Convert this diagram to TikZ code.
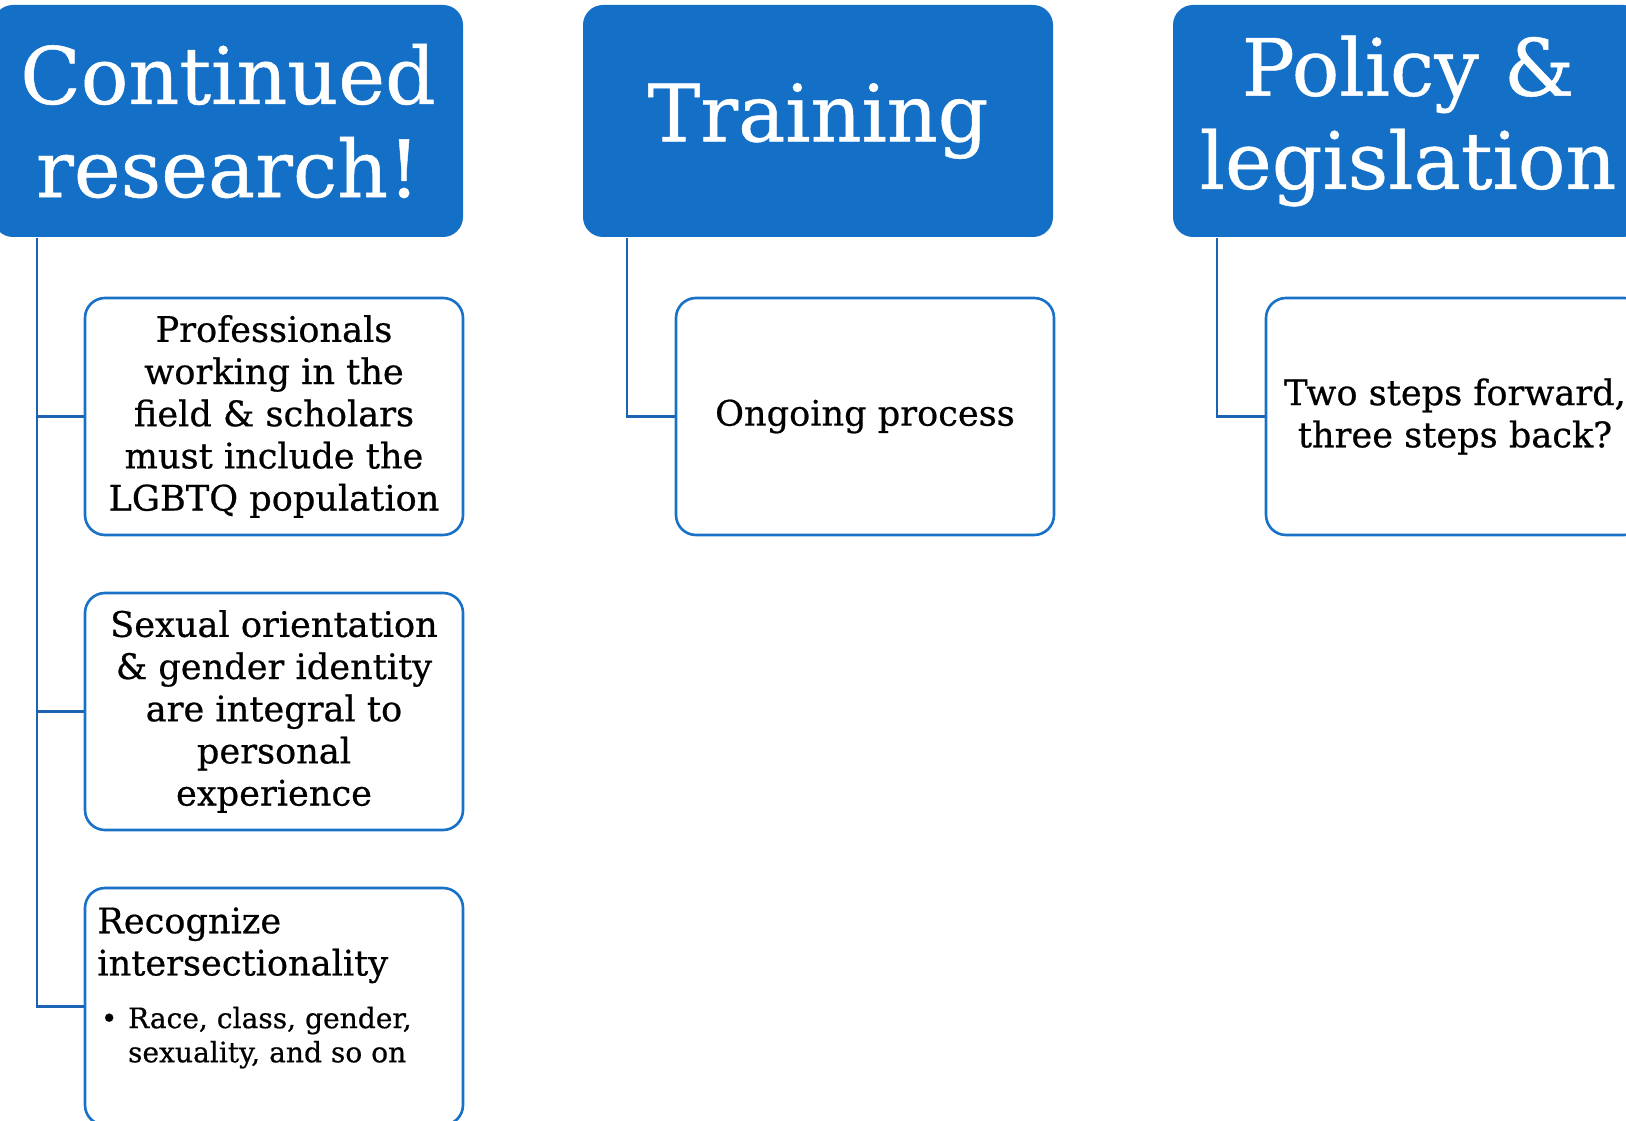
\documentclass[tikz,border=0pt]{standalone}
\usepackage{fontspec}
\setmainfont{DejaVu Serif}[BoldFont={DejaVu Serif}, BoldFeatures={FakeBold=0.6}]
\definecolor{headblue}{HTML}{1370C6}
\definecolor{boxblue}{HTML}{1A72C8}
\definecolor{linkblue}{HTML}{1D63B3}
\begin{document}
\begin{tikzpicture}[
    head/.style={rectangle, rounded corners=0.2cm, fill=headblue, text=white,
      minimum width=4.7cm, minimum height=2.32cm, align=center,
      font=\fontsize{22.5}{26.5}\selectfont\bfseries},
    item/.style={rectangle, rounded corners=0.2cm, draw=boxblue, line width=0.75pt,
      fill=white, minimum width=3.78cm, minimum height=2.37cm, align=center,
      font=\fontsize{10}{12}\selectfont\bfseries},
    link/.style={draw=linkblue, line width=0.6pt}]
  \path [fill=white, use as bounding box] (0,0) rectangle (16.26,-11.21);
  \foreach \txt [count=\i from 0] in {{Continued\\research!},{Training},{Policy \&\\legislation}} {
    \node [head] (h\i) at (2.28+\i*5.9,-1.21) {\txt};
  }
  \node [item] (r1) at (2.74,-4.165)
    {Professionals\\working in the\\field \& scholars\\must include the\\LGBTQ population};
  \node [item] (r2) at (2.74,-7.115)
    {Sexual orientation\\\& gender identity\\are integral to\\personal\\experience};
  \node [item] (r3) at (2.74,-10.065) {};
  \node [anchor=north west, inner sep=0pt, align=left, font=\fontsize{10}{12}\selectfont\bfseries]
    (r3t) at ([shift={(0.13,-0.2)}]r3.north west)
    {Recognize\\intersectionality\\[3pt]
     {\fontsize{8}{9.7}\selectfont\begin{tabular}[t]{@{\hspace{1pt}}l@{\hspace{3pt}}l@{}}
       \textbullet & Race, class, gender,\\ & sexuality, and so on\end{tabular}}};
  \node [item] (t1) at (8.65,-4.165) {Ongoing process};
  \node [item] (p1) at (14.55,-4.165) {Two steps forward,\\three steps back?};
  % connectors
  \foreach \c in {r1,r2,r3}
    \draw [link] ([xshift=0.45cm]h0.south west) |- (\c.west);
  \draw [link] ([xshift=0.45cm]h1.south west) |- (t1.west);
  \draw [link] ([xshift=0.45cm]h2.south west) |- (p1.west);
\end{tikzpicture}
\end{document}
